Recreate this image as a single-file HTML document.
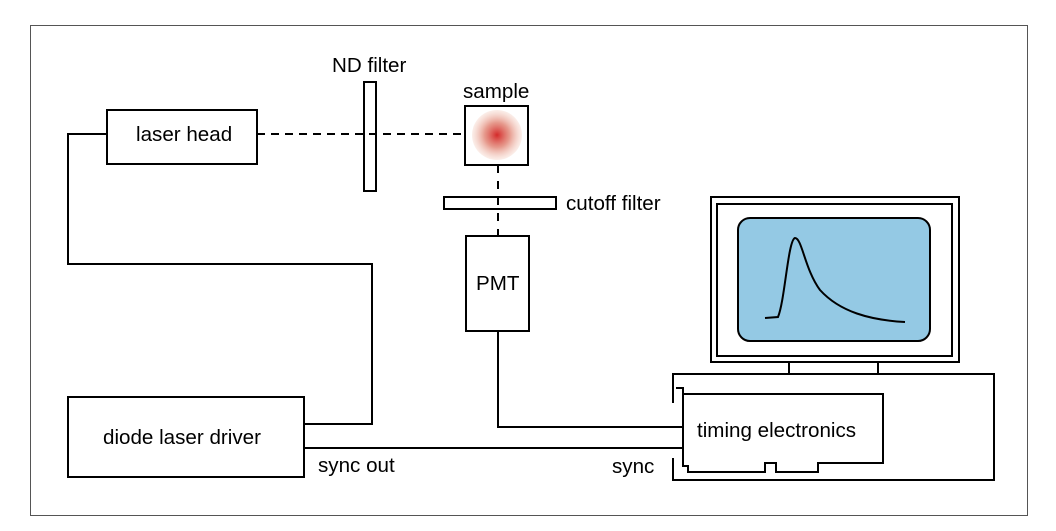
<!DOCTYPE html>
<html><head><style>body{margin:0;background:#fff}svg{display:block}text{font-family:"Liberation Sans",sans-serif;font-size:20.6px;fill:#000}</style></head><body>
<svg width="1056" height="531" viewBox="0 0 1056 531" xmlns="http://www.w3.org/2000/svg">
<defs><radialGradient id="g"><stop offset="0" stop-color="#d42a2a"/><stop offset="0.5" stop-color="#e08070" stop-opacity="0.8"/><stop offset="1" stop-color="#f2c8b8" stop-opacity="0.3"/></radialGradient></defs>
<rect x="30.5" y="25.5" width="997" height="490" fill="none" stroke="#555" stroke-width="1"/>
<g fill="none" stroke="#000" stroke-width="2">
<rect x="107" y="110" width="150" height="54"/>
<rect x="364" y="82" width="12" height="109"/>
<rect x="465" y="106" width="63" height="59"/>
<rect x="444" y="197" width="112" height="12"/>
<rect x="466" y="236" width="63" height="95"/>
<rect x="68" y="397" width="236" height="80"/>
<polyline points="107,134 68,134 68,264 372,264 372,424 304,424"/>
<polyline points="304,448 683,448"/>
<polyline points="498,331 498,427 683,427"/>
<line x1="257" y1="134" x2="465" y2="134" stroke-dasharray="8,6"/>
<line x1="498" y1="165" x2="498" y2="236" stroke-dasharray="8,8"/>
<rect x="711" y="197" width="248" height="165"/>
<rect x="717" y="204" width="235" height="152"/>
<line x1="789" y1="362" x2="789" y2="374"/>
<line x1="878" y1="362" x2="878" y2="374"/>
<polyline points="673,403 673,374 994,374 994,480 673,480 673,458"/>
<polyline points="676,388 683,388 683,394 883,394 883,463 818,463 818,472 776,472 776,463 765,463 765,472 688,472 688,466 683,466 683,394"/>
</g>
<rect x="738" y="218" width="192" height="123" rx="12" fill="#94c9e4" stroke="#000" stroke-width="2"/>
<circle cx="497" cy="135" r="25" fill="url(#g)"/>
<path d="M765,318 L778,317 C785,300 788,240 795,238 C802,238 805,270 820,290 C840,312 870,320 905,322" fill="none" stroke="#000" stroke-width="2"/>
<text x="136" y="141">laser head</text>
<text x="332" y="72">ND filter</text>
<text x="463" y="98">sample</text>
<text x="566" y="210">cutoff filter</text>
<text x="476" y="290">PMT</text>
<text x="103" y="444">diode laser driver</text>
<text x="318" y="472">sync out</text>
<text x="612" y="473">sync</text>
<text x="697" y="437">timing electronics</text>
</svg>
</body></html>
